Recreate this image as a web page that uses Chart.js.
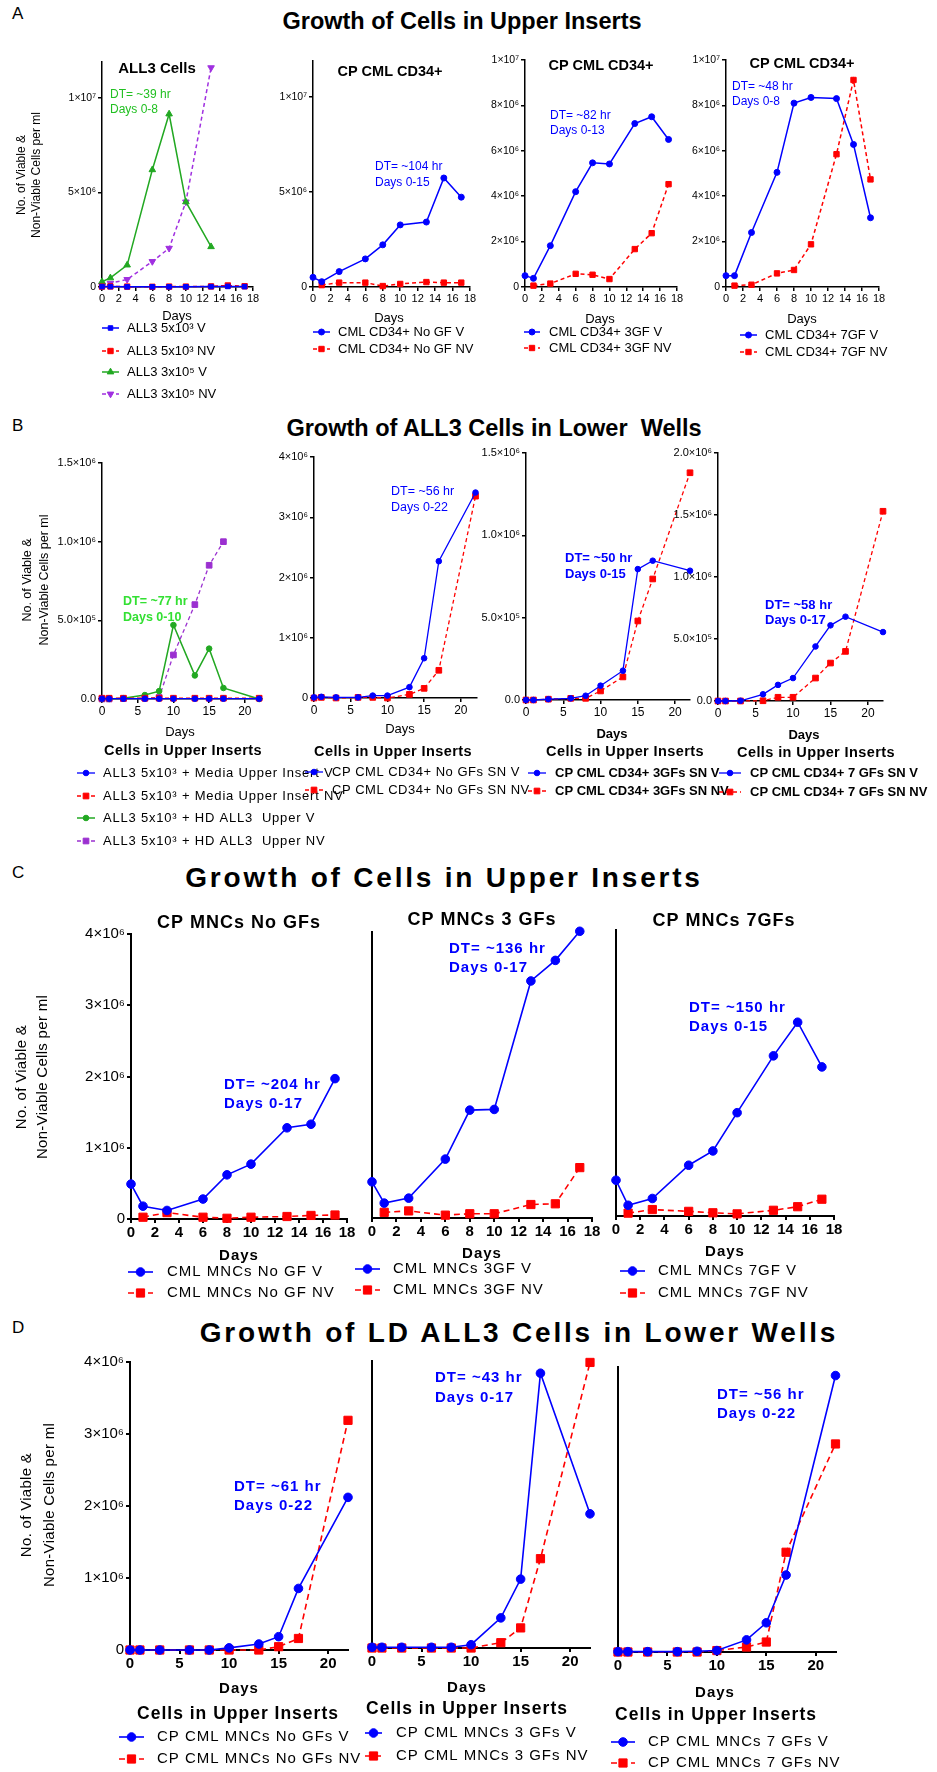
<!DOCTYPE html>
<html>
<head>
<meta charset="utf-8">
<script src="https://cdn.jsdelivr.net/npm/chart.js@4.4.1/dist/chart.umd.min.js"></script>
<style>
  html, body { margin: 0; padding: 0; background: #fff; }
  body { position: relative; width: 937px; height: 1772px; overflow: hidden; font-family: 'Liberation Sans', Arial, sans-serif; }
  canvas { position: absolute; }
  .t { position: absolute; white-space: pre; color: #000; transform: translate(-50%, -50%); font-weight: bold; }
  .letter { position: absolute; left: 12px; font-size: 17px; transform: translateY(-50%); }
</style>
</head>
<body>
<div class="letter" style="top:14px">A</div>
<div class="t" style="left:462px;top:21px;font-size:23.5px">Growth of Cells in Upper Inserts</div>
<div class="letter" style="top:426px">B</div>
<div class="t" style="left:494px;top:428px;font-size:23.5px">Growth of ALL3 Cells in Lower  Wells</div>
<div class="letter" style="top:873px">C</div>
<div class="t" style="left:444px;top:878px;font-size:28px;letter-spacing:2.8px">Growth of Cells in Upper Inserts</div>
<div class="letter" style="top:1328px">D</div>
<div class="t" style="left:519px;top:1333px;font-size:28px;letter-spacing:2.8px">Growth of LD ALL3 Cells in Lower Wells</div>

<script>
const F = "'Liberation Sans', Arial, sans-serif";
const BLUE = '#0000ff', RED = '#ff0000', GREEN = '#22a822', PURPLE = '#a030e0';

// sampling days
const daysA = [0, 1, 3, 6, 8, 10, 13, 15, 17];
const daysAhd = [0, 1, 3, 6, 8, 10, 13];
const daysB = [0, 1, 3, 6, 8, 10, 13, 15, 17, 22];
const daysC = [0, 1, 3, 6, 8, 10, 13, 15, 17];
const daysD = [0, 1, 3, 6, 8, 10, 13, 15, 17, 22];

// x tick values
const ticks18 = [0, 2, 4, 6, 8, 10, 12, 14, 16, 18];
const ticks20 = [0, 5, 10, 15, 20];

// y tick values (millions) and labels
const yTicksA12 = [0, 5, 10];
const yLabelsA12 = ['0', '5×10⁶', '1×10⁷'];
const yTicksA34 = [0, 2, 4, 6, 8, 10];
const yLabelsA34 = ['0', '2×10⁶', '4×10⁶', '6×10⁶', '8×10⁶', '1×10⁷'];
const yTicksB13 = [0, 0.5, 1, 1.5];
const yLabelsB13 = ['0.0', '5.0×10⁵', '1.0×10⁶', '1.5×10⁶'];
const yTicksB4 = [0, 0.5, 1, 1.5, 2];
const yLabelsB4 = ['0.0', '5.0×10⁵', '1.0×10⁶', '1.5×10⁶', '2.0×10⁶'];
const yTicks4 = [0, 1, 2, 3, 4];
const yLabels4 = ['0', '1×10⁶', '2×10⁶', '3×10⁶', '4×10⁶'];

// values in millions of cells per ml (null = not measured)
const a1LowV  = [0.02, 0.02, 0.01, 0.01, 0.01, 0.01, 0.02, 0.03, 0.02];
const a1LowNV = [0.02, 0.03, 0.02, 0.01, 0.02, 0.02, 0.03, 0.08, 0.04];
const a1HiV   = [0.28, 0.48, 1.16, 6.2, 9.15, 4.5, 2.13];
const a1HiNV  = [0.1, 0.2, 0.4, 1.35, 2.05, 4.5, 11.6];
const a2V  = [0.51, 0.28, 0.81, 1.48, 2.22, 3.27, 3.42, 5.74, 4.73];
const a2NV = [null, 0.1, 0.23, 0.23, 0.05, 0.16, 0.26, 0.23, 0.23];
const a3V  = [0.5, 0.38, 1.82, 4.2, 5.47, 5.42, 7.2, 7.5, 6.5];
const a3NV = [null, 0.06, 0.15, 0.58, 0.54, 0.35, 1.67, 2.37, 4.53];
const a4V  = [0.5, 0.5, 2.4, 5.05, 8.1, 8.35, 8.3, 6.28, 3.05];
const a4NV = [null, 0.06, 0.1, 0.6, 0.75, 1.88, 5.85, 9.12, 4.74];

const b1MediaV  = [0.002, 0.002, 0.002, 0.002, 0.002, 0.002, 0.002, 0.002, 0.002, 0.002];
const b1MediaNV = [0.005, 0.005, 0.005, 0.005, 0.005, 0.005, 0.005, 0.005, 0.005, 0.005];
const b1HdV  = [0, 0, 0.005, 0.025, 0.05, 0.47, 0.15, 0.32, 0.07, 0];
const b1HdNV = [0, 0, 0.002, 0.005, 0.01, 0.28, 0.6, 0.85, 1.0, null];
const b2V  = [0.01, 0.02, 0.01, 0.01, 0.04, 0.04, 0.18, 0.66, 2.27, 3.41];
const b2NV = [0, 0.01, 0, 0.01, 0.01, 0, 0.06, 0.16, 0.46, 3.35];
const b3V  = [0, 0, 0.005, 0.01, 0.026, 0.087, 0.178, 0.795, 0.846, 0.785];
const b3NV = [0, 0, 0.005, 0.01, 0.01, 0.055, 0.14, 0.48, 0.735, 1.38];
const b4V  = [0, 0, 0.002, 0.054, 0.13, 0.185, 0.44, 0.61, 0.68, 0.556];
const b4NV = [0, 0, 0, 0.002, 0.03, 0.03, 0.185, 0.306, 0.4, 1.53];

const c1V  = [0.49, 0.18, 0.12, 0.28, 0.62, 0.77, 1.28, 1.33, 1.97];
const c1NV = [null, 0.025, 0.09, 0.025, 0.01, 0.025, 0.035, 0.05, 0.056];
const c2V  = [0.51, 0.21, 0.28, 0.83, 1.52, 1.53, 3.34, 3.63, 4.04];
const c2NV = [null, 0.08, 0.1, 0.04, 0.06, 0.06, 0.19, 0.2, 0.71];
const c3V  = [0.5, 0.15, 0.245, 0.71, 0.91, 1.445, 2.24, 2.71, 2.085];
const c3NV = [null, 0.04, 0.09, 0.065, 0.045, 0.03, 0.08, 0.13, 0.235];

const d1V  = [0, 0, 0, 0, 0, 0.03, 0.083, 0.185, 0.855, 2.12];
const d1NV = [0, 0, 0, 0, 0, 0, 0, 0.046, 0.16, 3.19];
const d2V  = [0.01, 0.01, 0.01, 0.01, 0.01, 0.046, 0.42, 0.96, 3.83, 1.87];
const d2NV = [0, 0, 0, 0, 0, 0, 0.074, 0.28, 1.245, 3.98];
const d3V  = [0.005, 0.005, 0.005, 0.005, 0.01, 0.02, 0.17, 0.41, 1.08, 3.88];
const d3NV = [0, 0, 0, 0, 0, 0.02, 0.07, 0.14, 1.4, 2.92];

const css = (size, weight) => `${weight || 'normal'} ${size}px ${F}`;
const fnt = (size, weight) => ({ family: F, size: size, weight: weight || 'normal' });

// line styles per row
const stA = { lw: 1.5, rc: 3, rs: 3.8, dash: [4, 3] };
const stB = { lw: 1.3, rc: 2.8, rs: 4, dash: [4, 3] };
const stC = { lw: 1.6, rc: 4.3, rs: 5.8, dash: [6, 4] };

function pair(lv, lnv, days, v, nv, st) {
  return [
    { label: lv, days: days, vals: v, color: BLUE, pt: 'circle', r: st.rc, lw: st.lw },
    { label: lnv, days: days, vals: nv, color: RED, pt: 'rect', r: st.rs, lw: st.lw, dash: st.dash }
  ];
}

const yTitle = ['No. of Viable &', 'Non-Viable Cells per ml'];

const panels = [
  { id: 'a1', box: { x0: 102, x1: 253, yT: 62, yB: 287 }, xMax: 18, xTicks: ticks18, yMax: 11.9, yTicks: yTicksA12, yLabels: yLabelsA12,
    xFont: fnt(11), yFont: fnt(10.5), aw: 1.5,
    series: [
      { label: 'ALL3 5x10³ V', days: daysA, vals: a1LowV, color: BLUE, pt: 'rect', r: 3.2, lw: 1.5 },
      { label: 'ALL3 5x10³ NV', days: daysA, vals: a1LowNV, color: RED, pt: 'rect', r: 3.8, lw: 1.5, dash: [4, 3] },
      { label: 'ALL3 3x10⁵ V', days: daysAhd, vals: a1HiV, color: GREEN, pt: 'triangle', r: 3.8, lw: 1.5 },
      { label: 'ALL3 3x10⁵ NV', days: daysAhd, vals: a1HiNV, color: PURPLE, pt: 'triangle', r: 3.8, rot: 180, lw: 1.5, dash: [4, 3] }
    ],
    title: { t: 'ALL3 Cells', x: 157, y: 69, f: css(15, 'bold') },
    dt: { lines: ['DT= ~39 hr', 'Days 0-8'], x: 110, y: 95, dy: 15, f: css(12), c: '#22c022' },
    days: { x: 177, y: 316, f: css(13) },
    legend: { x0: 102, x1: 119, tx: 127, ys: [328, 351, 372, 394], f: css(13) },
    ytitle: { xs: [22, 37], y: 175, f: css(12) } },
  { id: 'a2', box: { x0: 313, x1: 470, yT: 61, yB: 287 }, xMax: 18, xTicks: ticks18, yMax: 11.9, yTicks: yTicksA12, yLabels: yLabelsA12,
    xFont: fnt(11), yFont: fnt(10.5), aw: 1.5,
    series: pair('CML CD34+ No GF V', 'CML CD34+ No GF NV', daysA, a2V, a2NV, stA),
    title: { t: 'CP CML CD34+', x: 390, y: 72, f: css(14.5, 'bold') },
    dt: { lines: ['DT= ~104 hr', 'Days 0-15'], x: 375, y: 167, dy: 15.5, f: css(12), c: BLUE },
    days: { x: 389, y: 318, f: css(13) },
    legend: { x0: 313, x1: 330, tx: 338, ys: [332, 349], f: css(13) } },
  { id: 'a3', box: { x0: 525, x1: 677, yT: 60, yB: 287 }, xMax: 18, xTicks: ticks18, yMax: 10, yTicks: yTicksA34, yLabels: yLabelsA34,
    xFont: fnt(11), yFont: fnt(10.5), aw: 1.5,
    series: pair('CML CD34+ 3GF V', 'CML CD34+ 3GF NV', daysA, a3V, a3NV, stA),
    title: { t: 'CP CML CD34+', x: 601, y: 66, f: css(14.5, 'bold') },
    dt: { lines: ['DT= ~82 hr', 'Days 0-13'], x: 550, y: 116, dy: 15, f: css(12), c: BLUE },
    days: { x: 600, y: 319, f: css(13) },
    legend: { x0: 524, x1: 540, tx: 549, ys: [332, 348], f: css(13) } },
  { id: 'a4', box: { x0: 726, x1: 879, yT: 60, yB: 287 }, xMax: 18, xTicks: ticks18, yMax: 10, yTicks: yTicksA34, yLabels: yLabelsA34,
    xFont: fnt(11), yFont: fnt(10.5), aw: 1.5,
    series: pair('CML CD34+ 7GF V', 'CML CD34+ 7GF NV', daysA, a4V, a4NV, stA),
    title: { t: 'CP CML CD34+', x: 802, y: 64, f: css(14.5, 'bold') },
    dt: { lines: ['DT= ~48 hr', 'Days 0-8'], x: 732, y: 87, dy: 14.5, f: css(12), c: BLUE },
    days: { x: 802, y: 319, f: css(13) },
    legend: { x0: 740, x1: 757, tx: 765, ys: [335, 352], f: css(13) } },

  { id: 'b1', box: { x0: 102, x1: 262, yT: 463, yB: 699 }, xMax: 22.4, xTicks: ticks20, yMax: 1.5, yTicks: yTicksB13, yLabels: yLabelsB13,
    xFont: fnt(12), yFont: fnt(11), aw: 1.5,
    series: [
      { label: 'ALL3 5x10³ + Media Upper Insert V', days: daysB, vals: b1MediaV, color: BLUE, pt: 'circle', r: 2.8, lw: 1.3 },
      { label: 'ALL3 5x10³ + Media Upper Insert NV', days: daysB, vals: b1MediaNV, color: RED, pt: 'rect', r: 4, lw: 1.3, dash: [4, 3] },
      { label: 'ALL3 5x10³ + HD ALL3  Upper V', days: daysB, vals: b1HdV, color: GREEN, pt: 'circle', r: 2.8, lw: 1.5 },
      { label: 'ALL3 5x10³ + HD ALL3  Upper NV', days: daysB, vals: b1HdNV, color: '#9b30d0', pt: 'rect', r: 4, lw: 1.3, dash: [4, 3] }
    ],
    dt: { lines: ['DT= ~77 hr', 'Days 0-10'], x: 123, y: 602, dy: 15.6, f: css(12.5, 'bold'), c: '#33e033' },
    days: { x: 180, y: 732, f: css(13) },
    sub: { x: 183, y: 751, f: css(14.5, 'bold'), sp: 0.4 },
    legend: { x0: 77, x1: 95, tx: 103, ys: [773, 796, 818, 841], f: css(13), sp: 0.8 },
    ytitle: { xs: [28, 45], y: 580, f: css(12.5) } },
  { id: 'b2', box: { x0: 314, x1: 477, yT: 457, yB: 698 }, xMax: 22.2, xTicks: ticks20, yMax: 4, yTicks: yTicks4, yLabels: yLabels4,
    xFont: fnt(12), yFont: fnt(11), aw: 1.5,
    series: pair('CP CML CD34+ No GFs SN V', 'CP CML CD34+ No GFs SN NV', daysB, b2V, b2NV, stB),
    dt: { lines: ['DT= ~56 hr', 'Days 0-22'], x: 391, y: 492, dy: 16, f: css(12.5), c: BLUE },
    days: { x: 400, y: 729, f: css(13) },
    sub: { x: 393, y: 751.5, f: css(14.5, 'bold'), sp: 0.4 },
    legend: { x0: 305, x1: 323, tx: 332, ys: [772, 790], f: css(13), sp: 0.5 } },
  { id: 'b3', box: { x0: 526, x1: 690.5, yT: 453, yB: 700 }, xMax: 22, xTicks: ticks20, yMax: 1.5, yTicks: yTicksB13, yLabels: yLabelsB13,
    xFont: fnt(12), yFont: fnt(11), aw: 1.5,
    series: pair('CP CML CD34+ 3GFs SN V', 'CP CML CD34+ 3GFs SN NV', daysB, b3V, b3NV, stB),
    dt: { lines: ['DT= ~50 hr', 'Days 0-15'], x: 565, y: 558, dy: 16.7, f: css(13, 'bold'), c: BLUE },
    days: { x: 612, y: 734, f: css(13, 'bold') },
    sub: { x: 625, y: 752, f: css(14.5, 'bold'), sp: 0.4 },
    legend: { x0: 528, x1: 546, tx: 555, ys: [773, 791], f: css(13, 'bold') } },
  { id: 'b4', box: { x0: 718, x1: 883, yT: 453, yB: 701 }, xMax: 22, xTicks: ticks20, yMax: 2, yTicks: yTicksB4, yLabels: yLabelsB4,
    xFont: fnt(12), yFont: fnt(11), aw: 1.5,
    series: pair('CP CML CD34+ 7 GFs SN V', 'CP CML CD34+ 7 GFs SN NV', daysB, b4V, b4NV, stB),
    dt: { lines: ['DT= ~58 hr', 'Days 0-17'], x: 765, y: 605, dy: 15.7, f: css(13, 'bold'), c: BLUE },
    days: { x: 804, y: 735, f: css(13, 'bold') },
    sub: { x: 816, y: 752.5, f: css(14.5, 'bold'), sp: 0.4 },
    legend: { x0: 719, x1: 741, tx: 750, ys: [773, 792], f: css(13, 'bold') } },

  { id: 'c1', box: { x0: 131, x1: 347, yT: 934, yB: 1219 }, xMax: 18, xTicks: ticks18, yMax: 4, yTicks: yTicks4, yLabels: yLabels4,
    xFont: fnt(15, 'bold'), yFont: fnt(15), aw: 2,
    series: pair('CML MNCs No GF V', 'CML MNCs No GF NV', daysC, c1V, c1NV, stC),
    title: { t: 'CP MNCs No GFs', x: 239, y: 923, f: css(18, 'bold'), sp: 1 },
    dt: { lines: ['DT= ~204 hr', 'Days 0-17'], x: 224, y: 1085, dy: 19, f: css(15, 'bold'), c: BLUE, sp: 1 },
    days: { x: 239, y: 1256, f: css(15, 'bold'), sp: 1 },
    legend: { x0: 128, x1: 153, tx: 167, ys: [1272, 1293], f: css(15), sp: 1 },
    ytitle: { xs: [22, 43], y: 1077, f: css(15), sp: 0.3 } },
  { id: 'c2', box: { x0: 372, x1: 592, yT: 932, yB: 1218 }, xMax: 18, xTicks: ticks18, yMax: 4.03, yTicks: yTicks4, yLabels: null,
    xFont: fnt(15, 'bold'), yFont: fnt(15), aw: 2,
    series: pair('CML MNCs 3GF V', 'CML MNCs 3GF NV', daysC, c2V, c2NV, stC),
    title: { t: 'CP MNCs 3 GFs', x: 482, y: 920, f: css(18, 'bold'), sp: 1 },
    dt: { lines: ['DT= ~136 hr', 'Days 0-17'], x: 449, y: 949, dy: 19, f: css(15, 'bold'), c: BLUE, sp: 1 },
    days: { x: 482, y: 1254, f: css(15, 'bold'), sp: 1 },
    legend: { x0: 355, x1: 380, tx: 393, ys: [1269, 1290], f: css(15), sp: 1 } },
  { id: 'c3', box: { x0: 616, x1: 834, yT: 930, yB: 1216 }, xMax: 18, xTicks: ticks18, yMax: 4, yTicks: yTicks4, yLabels: null,
    xFont: fnt(15, 'bold'), yFont: fnt(15), aw: 2,
    series: pair('CML MNCs 7GF V', 'CML MNCs 7GF NV', daysC, c3V, c3NV, stC),
    title: { t: 'CP MNCs 7GFs', x: 724, y: 921, f: css(18, 'bold'), sp: 1 },
    dt: { lines: ['DT= ~150 hr', 'Days 0-15'], x: 689, y: 1008, dy: 19, f: css(15, 'bold'), c: BLUE, sp: 1 },
    days: { x: 725, y: 1252, f: css(15, 'bold'), sp: 1 },
    legend: { x0: 620, x1: 645, tx: 658, ys: [1271, 1293], f: css(15), sp: 1 } },

  { id: 'd1', box: { x0: 130, x1: 348, yT: 1362, yB: 1650 }, xMax: 22, xTicks: ticks20, yMax: 4, yTicks: yTicks4, yLabels: yLabels4,
    xFont: fnt(15, 'bold'), yFont: fnt(15), aw: 2,
    series: pair('CP CML MNCs No GFs V', 'CP CML MNCs No GFs NV', daysD, d1V, d1NV, stC),
    dt: { lines: ['DT= ~61 hr', 'Days 0-22'], x: 234, y: 1487, dy: 19.3, f: css(15, 'bold'), c: BLUE, sp: 1 },
    days: { x: 239, y: 1689, f: css(15, 'bold'), sp: 1 },
    sub: { x: 238, y: 1714, f: css(17.5, 'bold'), sp: 1 },
    legend: { x0: 119, x1: 144, tx: 157, ys: [1737, 1759], f: css(15), sp: 1 },
    ytitle: { xs: [27, 50], y: 1505, f: css(15), sp: 0.3 } },
  { id: 'd2', box: { x0: 372, x1: 590, yT: 1361, yB: 1648 }, xMax: 22, xTicks: ticks20, yMax: 4, yTicks: yTicks4, yLabels: null,
    xFont: fnt(15, 'bold'), yFont: fnt(15), aw: 2,
    series: pair('CP CML MNCs 3 GFs V', 'CP CML MNCs 3 GFs NV', daysD, d2V, d2NV, stC),
    dt: { lines: ['DT= ~43 hr', 'Days 0-17'], x: 435, y: 1378, dy: 19.4, f: css(15, 'bold'), c: BLUE, sp: 1 },
    days: { x: 467, y: 1688, f: css(15, 'bold'), sp: 1 },
    sub: { x: 467, y: 1709, f: css(17.5, 'bold'), sp: 1 },
    legend: { x0: 365, x1: 382, tx: 396, ys: [1733, 1756], f: css(15), sp: 1 } },
  { id: 'd3', box: { x0: 618, x1: 835.5, yT: 1367, yB: 1652 }, xMax: 22, xTicks: ticks20, yMax: 4, yTicks: yTicks4, yLabels: null,
    xFont: fnt(15, 'bold'), yFont: fnt(15), aw: 2,
    series: pair('CP CML MNCs 7 GFs V', 'CP CML MNCs 7 GFs NV', daysD, d3V, d3NV, stC),
    dt: { lines: ['DT= ~56 hr', 'Days 0-22'], x: 717, y: 1395, dy: 19.3, f: css(15, 'bold'), c: BLUE, sp: 1 },
    days: { x: 715, y: 1693, f: css(15, 'bold'), sp: 1 },
    sub: { x: 716, y: 1715, f: css(17.5, 'bold'), sp: 1 },
    legend: { x0: 611, x1: 635, tx: 648, ys: [1742, 1763], f: css(15), sp: 1 } }
];

const byId = {};
panels.forEach(p => { byId[p.id] = p; });

function marker(ctx, style, x, y, r, rot, color) {
  ctx.save();
  ctx.fillStyle = color; ctx.strokeStyle = color; ctx.lineWidth = 1; ctx.setLineDash([]);
  ctx.beginPath();
  if (style === 'rect') {
    const s = r * Math.SQRT1_2;
    ctx.rect(x - s, y - s, 2 * s, 2 * s);
  } else if (style === 'triangle') {
    let a = (rot || 0) * Math.PI / 180;
    ctx.moveTo(x + Math.sin(a) * r, y - Math.cos(a) * r);
    a += 2 * Math.PI / 3;
    ctx.lineTo(x + Math.sin(a) * r, y - Math.cos(a) * r);
    a += 2 * Math.PI / 3;
    ctx.lineTo(x + Math.sin(a) * r, y - Math.cos(a) * r);
    ctx.closePath();
  } else {
    ctx.arc(x, y, r, 0, Math.PI * 2);
  }
  ctx.fill(); ctx.stroke();
  ctx.restore();
}

const panelText = {
  id: 'panelText',
  afterDraw(chart) {
    const c = byId[chart.canvas.id];
    if (!c) return;
    const ctx = chart.ctx;
    ctx.save();
    ctx.translate(-c.L, -c.T);
    ctx.textBaseline = 'middle';
    const put = (s, x, y, f, color, align, sp) => {
      ctx.font = f; ctx.fillStyle = color || '#000'; ctx.textAlign = align || 'left';
      ctx.letterSpacing = (sp || 0) + 'px';
      ctx.fillText(s, x, y);
    };
    if (c.title) put(c.title.t, c.title.x, c.title.y, c.title.f, '#000', 'center', c.title.sp);
    if (c.dt) c.dt.lines.forEach((s, i) => put(s, c.dt.x, c.dt.y + i * c.dt.dy, c.dt.f, c.dt.c, 'left', c.dt.sp));
    put('Days', c.days.x, c.days.y, c.days.f, '#000', 'center', c.days.sp);
    if (c.sub) put('Cells in Upper Inserts', c.sub.x, c.sub.y, c.sub.f, '#000', 'center', c.sub.sp);
    const lg = c.legend;
    chart.data.datasets.forEach((ds, i) => {
      const y = lg.ys[i];
      ctx.save();
      ctx.strokeStyle = ds.borderColor; ctx.lineWidth = ds.borderWidth; ctx.setLineDash(ds.borderDash || []);
      ctx.beginPath(); ctx.moveTo(lg.x0, y); ctx.lineTo(lg.x1, y); ctx.stroke();
      ctx.restore();
      marker(ctx, ds.pointStyle, (lg.x0 + lg.x1) / 2, y, ds.pointRadius, ds.pointRotation, ds.borderColor);
      put(ds.label, lg.tx, y, lg.f, '#000', 'left', lg.sp);
    });
    if (c.ytitle) {
      yTitle.forEach((s, i) => {
        ctx.save();
        ctx.translate(c.ytitle.xs[i], c.ytitle.y);
        ctx.rotate(-Math.PI / 2);
        put(s, 0, 0, c.ytitle.f, '#000', 'center', c.ytitle.sp);
        ctx.restore();
      });
    }
    ctx.restore();
  }
};

function build(c) {
  const b = c.box;
  c.L = Math.max(0, b.x0 - 130);
  c.T = Math.max(0, b.yT - 70);
  const R = Math.min(937, b.x1 + 230);
  const B = Math.min(1772, b.yB + 170);
  const XH = 30;
  const cv = document.createElement('canvas');
  cv.id = c.id;
  cv.width = R - c.L; cv.height = B - c.T;
  cv.style.left = c.L + 'px'; cv.style.top = c.T + 'px';
  cv.style.width = cv.width + 'px'; cv.style.height = cv.height + 'px';
  document.body.appendChild(cv);

  const datasets = c.series.map(s => ({
    label: s.label,
    data: s.days.map((d, i) => ({ x: d, y: s.vals[i] })).filter(pt => pt.y !== null),
    borderColor: s.color,
    backgroundColor: s.color,
    borderWidth: s.lw,
    borderDash: s.dash || [],
    pointStyle: s.pt,
    pointRadius: s.r,
    pointRotation: s.rot || 0,
    pointBackgroundColor: s.color,
    pointBorderColor: s.color,
    pointBorderWidth: 1,
    tension: 0,
    fill: false,
    clip: false
  }));

  new Chart(cv, {
    type: 'line',
    data: { datasets: datasets },
    options: {
      responsive: false,
      animation: false,
      devicePixelRatio: 1,
      events: [],
      layout: {
        autoPadding: false,
        padding: { left: 0, top: b.yT - c.T, right: R - b.x1, bottom: B - b.yB - XH }
      },
      plugins: { legend: { display: false }, tooltip: { enabled: false }, title: { display: false } },
      scales: {
        x: {
          type: 'linear', min: 0, max: c.xMax,
          afterBuildTicks: a => { a.ticks = c.xTicks.map(v => ({ value: v })); },
          afterFit: a => { a.height = XH; },
          ticks: { font: c.xFont, color: '#000', padding: 1, maxRotation: 0, autoSkip: false },
          grid: { display: true, drawOnChartArea: false, drawTicks: true, tickLength: 4, color: '#000', lineWidth: c.aw },
          border: { display: true, color: '#000', width: c.aw }
        },
        y: {
          type: 'linear', min: 0, max: c.yMax,
          afterBuildTicks: a => { a.ticks = c.yTicks.map(v => ({ value: v })); },
          afterFit: a => { a.width = b.x0 - c.L; },
          ticks: {
            display: !!c.yLabels, font: c.yFont, color: '#000', padding: 2, autoSkip: false,
            callback: (v, i) => (c.yLabels ? c.yLabels[i] : '')
          },
          grid: { display: true, drawOnChartArea: false, drawTicks: !!c.yLabels, tickLength: 4, color: '#000', lineWidth: c.aw },
          border: { display: true, color: '#000', width: c.aw }
        }
      }
    },
    plugins: [panelText]
  });
}

panels.forEach(build);
</script>
</body>
</html>
